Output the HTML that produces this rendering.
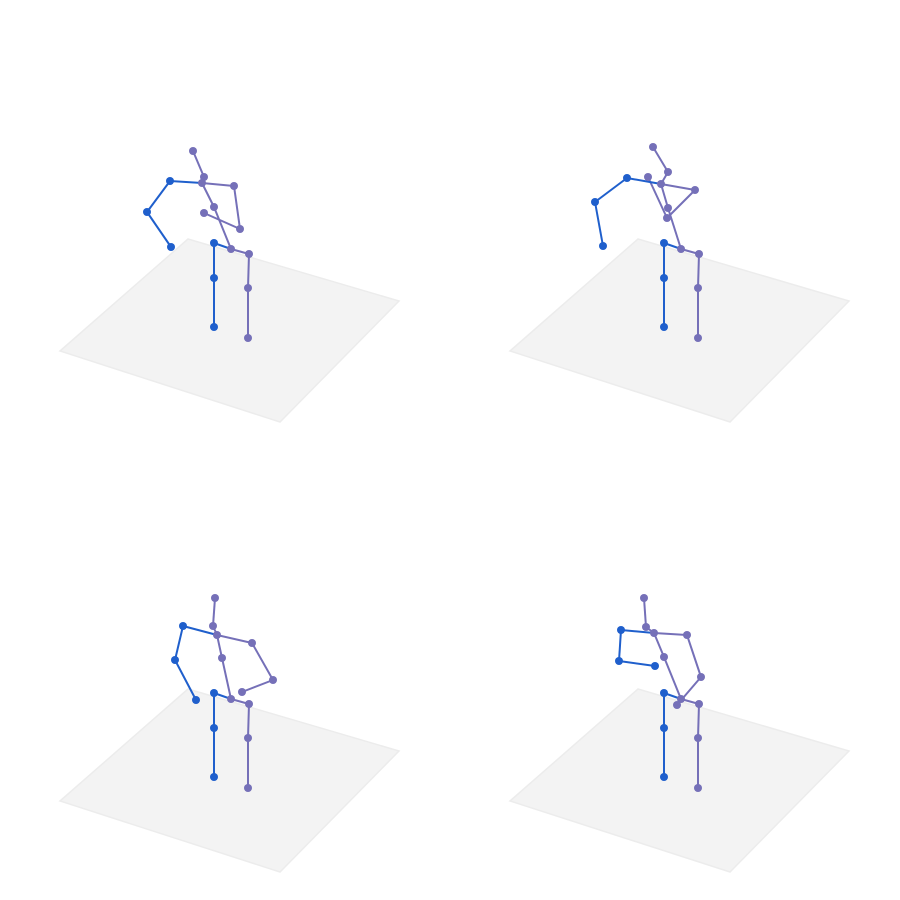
<!DOCTYPE html>
<html><head><meta charset="utf-8"><style>html,body{margin:0;padding:0;background:#fff}svg{display:block}</style></head>
<body>
<svg id="chart" width="900" height="900" viewBox="0 0 900 900"></svg>
<script>
// joint order: head, neck, thorax, spine, pelvis, lShoulder(blue) , lElbow, lWrist, rShoulder, rElbow, rWrist, lHip, lKnee, lAnkle, rHip, rKnee, rAnkle
const frameOffsets = [[0,0],[450,0],[0,450],[450,450]];
const poseA = [[193,151],[204,177],[202,183],[214,207],[231,249],[170,181],[147,212],[171,247],[234,186],[240,229],[204,213],[214,243],[214,278],[214,327],[249,254],[248,288],[248,338]];
const poseB = [[203,147],[218,172],[211,184],[218,208],[231,249],[177,178],[145,202],[153,246],[245,190],[217,218],[198,177],[214,243],[214,278],[214,327],[249,254],[248,288],[248,338]];
const poseC = [[215,148],[213,176],[217,185],[222,208],[231,249],[183,176],[175,210],[196,250],[252,193],[273,230],[242,242],[214,243],[214,278],[214,327],[249,254],[248,288],[248,338]];
const poseD = [[194,148],[196,177],[204,183],[214,207],[231,249],[171,180],[169,211],[205,216],[237,185],[251,227],[227,255],[214,243],[214,278],[214,327],[249,254],[248,288],[248,338]];
const poses = [poseA, poseB, poseC, poseD];
const blueEdges = [[2,5],[5,6],[6,7],[4,11],[11,12],[12,13]];
const purpleEdges = [[0,1],[1,2],[2,3],[3,4],[2,8],[8,9],[9,10],[4,14],[14,15],[15,16]];
const blueJoints = [5,6,7,11,12,13];
const floorCorners = [[60,351],[188,239],[399,301],[280,422]];

const NS = 'http://www.w3.org/2000/svg';
const svg = document.getElementById('chart');
const BLUE = '#1f5fcc', PURPLE = '#7570b8';
function mk(tag, attrs, parent){const e=document.createElementNS(NS,tag);for(const k in attrs)e.setAttribute(k,attrs[k]);parent.appendChild(e);return e;}
poses.forEach((pose, f) => {
  const [ox, oy] = frameOffsets[f];
  const g = mk('g', {transform:`translate(${ox},${oy})`}, svg);
  
  
  const floor = mk('polygon', {points: floorCorners.map(p=>p.join(',')).join(' '), fill:'#f3f3f3', stroke:'#ececec', 'stroke-width':1.5}, g);
  
  
  const drawEdges = (edges, color, name) => edges.forEach(([a,b]) => {
    const l = mk('line', {x1:pose[a][0], y1:pose[a][1], x2:pose[b][0], y2:pose[b][1], stroke:color, 'stroke-width':2}, g);
    
    
  });
  drawEdges(purpleEdges, PURPLE, 'bone-right');
  drawEdges(blueEdges, BLUE, 'bone-left');
  pose.forEach((p, i) => {
    const c = mk('circle', {cx:p[0], cy:p[1], r:4, fill: blueJoints.includes(i) ? BLUE : PURPLE}, g);
    
    
  });
});
</script>
</body></html>
